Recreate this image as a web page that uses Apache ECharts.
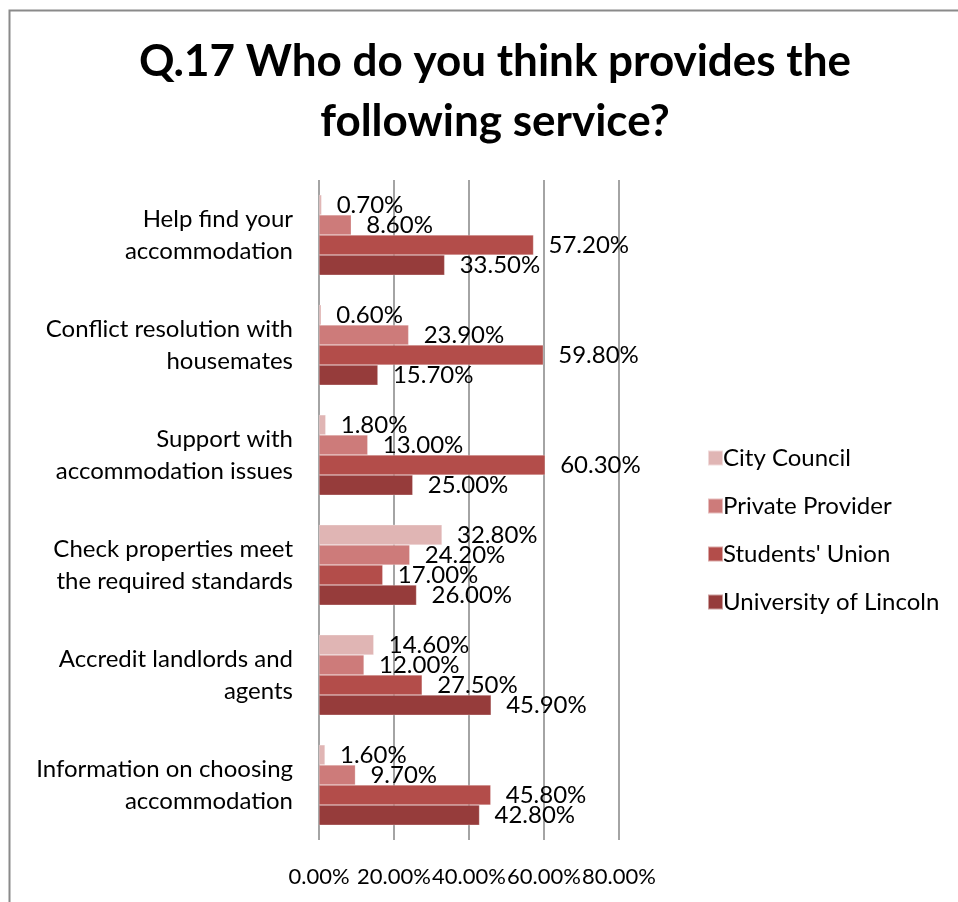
<!DOCTYPE html>
<html>
<head>
<meta charset="utf-8">
<script src="https://cdn.jsdelivr.net/npm/echarts@6/dist/echarts.min.js"></script>
<style>
  html, body { margin: 0; padding: 0; background: #fff; }
  #chart { width: 958px; height: 902px; }
</style>
</head>
<body>
<div id="chart"></div>
<script>
// Survey question 17: who respondents think provides each housing service (% of responses)
const categories = [
  'Help find your\naccommodation',
  'Conflict resolution with\nhousemates',
  'Support with\naccommodation issues',
  'Check properties meet\nthe required standards',
  'Accredit landlords and\nagents',
  'Information on choosing\naccommodation'
];
const cityCouncil      = [0.7, 0.6, 1.8, 32.8, 14.6, 1.6];
const privateProvider  = [8.6, 23.9, 13.0, 24.2, 12.0, 9.7];
const studentsUnion    = [57.2, 59.8, 60.3, 17.0, 27.5, 45.8];
const universityLincoln = [33.5, 15.7, 25.0, 26.0, 45.9, 42.8];
const xTicks = [0, 20, 40, 60, 80];

const FONT = 'Lato, "Open Sans", sans-serif';
const pct = v => v.toFixed(2) + '%';

const seriesDefs = [
  { name: 'City Council', data: cityCouncil, color: '#e0b5b4' },
  { name: 'Private Provider', data: privateProvider, color: '#cd7b7a' },
  { name: "Students' Union", data: studentsUnion, color: '#b34d4a' },
  { name: 'University of Lincoln', data: universityLincoln, color: '#963c3b' }
];

const chart = echarts.init(document.getElementById('chart'));
chart.setOption({
  backgroundColor: '#fff',
  animation: false,
  textStyle: { fontFamily: FONT, color: '#000' },
  title: {
    text: 'Q.17 Who do you think provides the\nfollowing service?',
    left: 490,
    top: 27,
    textAlign: 'center',
    textStyle: { fontFamily: FONT, fontWeight: 'bold', fontSize: 44, lineHeight: 60, color: '#000' }
  },
  legend: {
    orient: 'vertical',
    left: 702,
    top: 441,
    icon: 'rect',
    itemWidth: 15,
    itemHeight: 15,
    itemGap: 24,
    textStyle: { fontFamily: FONT, fontSize: 24, color: '#000', padding: [0, 0, 0, -5] },
    data: seriesDefs.map(s => s.name)
  },
  grid: { left: 319, right: 339, top: 180, bottom: 62, containLabel: false },
  xAxis: {
    type: 'value',
    min: xTicks[0],
    max: xTicks[xTicks.length - 1],
    interval: xTicks[1] - xTicks[0],
    axisLine: { show: false },
    axisTick: { show: false },
    axisLabel: { formatter: v => pct(v), fontSize: 22, color: '#000', margin: 26, fontFamily: FONT },
    splitLine: { show: true, lineStyle: { color: '#868686', width: 1.5 } }
  },
  yAxis: {
    type: 'category',
    inverse: true,
    data: categories,
    axisLine: { show: false },
    axisTick: { show: false },
    axisLabel: { fontSize: 24, lineHeight: 32, color: '#000', margin: 26, align: 'right', fontFamily: FONT }
  },
  graphic: [{
    type: 'polyline',
    shape: { points: [[9.5, 902], [9.5, 10.5], [958, 10.5]] },
    style: { stroke: '#8a8a8a', lineWidth: 2, fill: null },
    silent: true
  }],
  series: seriesDefs.map(s => ({
    name: s.name,
    type: 'bar',
    data: s.data,
    barGap: '0%',
    barCategoryGap: '27%',
    itemStyle: { color: s.color, borderColor: 'rgba(255,255,255,0.5)', borderWidth: 0.5 },
    label: {
      show: true,
      position: 'right',
      distance: 15,
      formatter: p => pct(p.value),
      fontSize: 24,
      color: '#000',
      fontFamily: FONT
    }
  }))
});
</script>
</body>
</html>
